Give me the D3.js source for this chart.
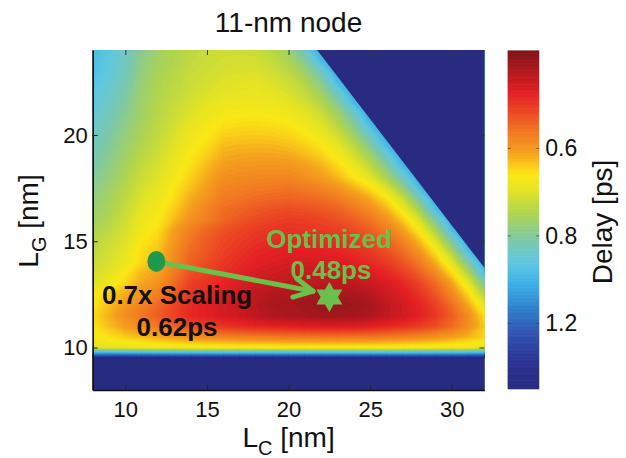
<!DOCTYPE html>
<html><head><meta charset="utf-8">
<script src="https://cdn.jsdelivr.net/npm/d3@7"></script>
<style>
body{margin:0;background:#fff}
svg{display:block}
text{font-family:"Liberation Sans",Arial,Helvetica,sans-serif}
</style>
</head><body>
<svg id="chart" width="626" height="458"></svg>
<script>
// ---------------- data ----------------
const lcValues = [8,9,10,11,12,13,14,15,16,17,18,19,20,21,22,23,24,25,26,27,28,29,30,31,32];
const lgValues = [24,23.5,23,22.5,22,21.5,21,20.5,20,19.5,19,18.5,18,17.5,17,16.5,16,15.5,15,14.5,14,13.5,13,12.5,12,11.5,11,10.5,10,9.5,9,8.5,8];
const N = null;
// delay in ps; null = infeasible design (LC + LG above the pitch limit)
const delayGrid = [
[.936,.895,.846,.792,.754,.736,.721,.709,.705,.703,.710,.728,.763,.858,N,N,N,N,N,N,N,N,N,N,N],
[.929,.888,.841,.782,.750,.733,.716,.706,.700,.697,.699,.712,.741,.797,.936,N,N,N,N,N,N,N,N,N,N],
[.922,.882,.835,.774,.745,.727,.711,.702,.695,.691,.690,.701,.723,.763,.846,N,N,N,N,N,N,N,N,N,N],
[.908,.870,.824,.767,.738,.723,.706,.697,.687,.684,.681,.690,.702,.732,.792,.936,N,N,N,N,N,N,N,N,N],
[.895,.858,.813,.763,.734,.718,.702,.691,.682,.677,.674,.680,.693,.715,.758,.852,N,N,N,N,N,N,N,N,N],
[.882,.846,.802,.758,.730,.710,.693,.680,.669,.666,.663,.669,.679,.697,.730,.794,.936,N,N,N,N,N,N,N,N],
[.870,.835,.792,.754,.726,.705,.685,.671,.659,.656,.653,.657,.665,.679,.705,.754,.846,N,N,N,N,N,N,N,N],
[.858,.824,.782,.747,.721,.698,.677,.661,.646,.643,.641,.644,.651,.665,.687,.727,.797,.936,N,N,N,N,N,N,N],
[.846,.813,.772,.740,.716,.690,.668,.651,.634,.631,.630,.632,.637,.649,.669,.700,.757,.858,N,N,N,N,N,N,N],
[.835,.802,.763,.732,.708,.683,.661,.643,.622,.619,.618,.619,.623,.633,.649,.677,.721,.797,.936,N,N,N,N,N,N],
[.824,.792,.754,.723,.700,.675,.651,.631,.612,.609,.607,.608,.610,.619,.632,.658,.695,.751,.852,N,N,N,N,N,N],
[.813,.782,.745,.714,.693,.667,.643,.620,.602,.598,.596,.595,.596,.604,.615,.637,.669,.714,.792,.936,N,N,N,N,N],
[.802,.772,.736,.705,.685,.660,.634,.612,.592,.588,.586,.585,.585,.592,.602,.620,.648,.683,.741,.846,N,N,N,N,N],
[.787,.758,.727,.696,.677,.649,.624,.603,.583,.579,.575,.573,.571,.575,.583,.597,.616,.644,.690,.768,.929,N,N,N,N],
[.777,.750,.719,.687,.668,.642,.613,.594,.575,.570,.565,.561,.559,.562,.566,.576,.591,.612,.646,.705,.822,N,N,N,N],
[.763,.741,.710,.678,.661,.630,.603,.583,.566,.559,.553,.549,.546,.548,.552,.559,.572,.590,.617,.665,.749,.922,N,N,N],
[.754,.732,.702,.670,.653,.621,.594,.578,.562,.552,.544,.539,.535,.536,.540,.547,.556,.571,.594,.630,.692,.813,N,N,N],
[.741,.719,.694,.661,.643,.603,.577,.561,.548,.541,.534,.531,.528,.530,.533,.537,.544,.556,.575,.604,.653,.740,.919,N,N],
[.727,.706,.687,.651,.634,.598,.570,.555,.542,.535,.528,.525,.522,.523,.525,.528,.534,.544,.559,.583,.619,.686,.810,N,N],
[.719,.698,.679,.642,.626,.592,.564,.551,.538,.530,.522,.519,.516,.516,.518,.520,.525,.533,.546,.566,.596,.646,.736,.919,N],
[.710,.690,.672,.638,.620,.586,.557,.545,.533,.525,.517,.513,.510,.510,.510,.512,.517,.524,.535,.551,.576,.615,.683,.808,N],
[.698,.679,.651,.619,.606,.575,.547,.537,.527,.519,.510,.507,.504,.503,.503,.504,.507,.513,.522,.536,.556,.588,.640,.732,.918],
[.687,.668,.637,.609,.595,.565,.538,.529,.520,.512,.504,.501,.498,.496,.496,.496,.498,.504,.511,.523,.540,.564,.606,.675,.803],
[.658,.634,.612,.595,.578,.555,.531,.522,.514,.507,.497,.492,.490,.488,.486,.486,.488,.493,.504,.514,.529,.551,.584,.638,.732],
[.651,.624,.600,.581,.562,.542,.524,.516,.507,.502,.494,.488,.486,.483,.480,.480,.482,.486,.498,.507,.520,.538,.567,.610,.680],
[.641,.615,.591,.573,.555,.539,.523,.516,.509,.503,.496,.491,.488,.486,.484,.484,.486,.489,.499,.507,.517,.533,.556,.590,.643],
[.648,.624,.603,.588,.573,.558,.545,.538,.532,.527,.523,.520,.518,.516,.514,.514,.515,.518,.523,.529,.536,.547,.565,.591,.629],
[.658,.645,.632,.622,.612,.603,.594,.589,.584,.580,.578,.576,.574,.573,.572,.572,.573,.574,.578,.582,.587,.595,.604,.618,.634],
[.690,.683,.678,.674,.670,.667,.665,.664,.662,.661,.661,.660,.659,.659,.659,.659,.659,.659,.660,.661,.663,.665,.668,.672,.678],
[1.9,1.9,1.9,1.9,1.9,1.9,1.9,1.9,1.9,1.9,1.9,1.9,1.9,1.9,1.9,1.9,1.9,1.9,1.9,1.9,1.9,1.9,1.9,1.9,1.9],
[1.9,1.9,1.9,1.9,1.9,1.9,1.9,1.9,1.9,1.9,1.9,1.9,1.9,1.9,1.9,1.9,1.9,1.9,1.9,1.9,1.9,1.9,1.9,1.9,1.9],
[1.9,1.9,1.9,1.9,1.9,1.9,1.9,1.9,1.9,1.9,1.9,1.9,1.9,1.9,1.9,1.9,1.9,1.9,1.9,1.9,1.9,1.9,1.9,1.9,1.9],
[1.9,1.9,1.9,1.9,1.9,1.9,1.9,1.9,1.9,1.9,1.9,1.9,1.9,1.9,1.9,1.9,1.9,1.9,1.9,1.9,1.9,1.9,1.9,1.9,1.9]
];
const pitchLimit = 45.75;          // designs with LC + LG above this are infeasible
const infeasibleDelay = 1.0;       // value used under the infeasible mask
const xTicks = [10,15,20,25,30];
const yTicks = [10,15,20];
const delayTicks = [0.6,0.8,1.2];
const delayLimits = [0.469,1.92];  // colour-bar limits (ps)
const scalingPoint = {lc: 11.9, lg: 14.05, delay: 0.62};
const arrowTip = {lc: 21.5, lg: 12.65};
const optimizedPoint = {lc: 22.5, lg: 12.38, delay: 0.48};

// ---------------- layout ----------------
const svg = d3.select("#chart");
const x = d3.scaleLinear().domain([8,32]).range([92.7,484.4]);
const y = d3.scaleLinear().domain([8,24]).range([390,50]);
const sMin = 1/delayLimits[1], sMax = 1/delayLimits[0];
const tStops = [0,.08,.16,.24,.31,.375,.44,.52,.59,.63,.66,.70,.76,.82,.875,.94,1];
const cStops = ["rgb(40,43,128)","rgb(44,50,145)","rgb(50,80,175)","rgb(48,130,205)","rgb(60,175,230)",
  "rgb(95,200,225)","rgb(125,200,170)","rgb(175,212,80)","rgb(230,228,35)","rgb(250,232,22)",
  "rgb(250,205,25)","rgb(245,160,30)","rgb(242,120,35)","rgb(236,72,36)","rgb(228,32,37)","rgb(178,24,30)","rgb(125,20,25)"];
const jet = d3.scaleLinear().domain(tStops).range(cStops).interpolate(d3.interpolateRgb).clamp(true);
const color = s => jet((s - sMin)/(sMax - sMin));

svg.append("defs").append("clipPath").attr("id","plotclip")
  .append("rect").attr("x",x(8)).attr("y",y(24)).attr("width",x(32)-x(8)).attr("height",y(8)-y(24));

// heat map as filled contour bands of speed (1/delay)
const nx = lcValues.length, ny = lgValues.length;
const speed = [];
delayGrid.forEach(row => row.forEach(d => speed.push(1/(d == null ? infeasibleDelay : d))));
const step = 0.0125;
const thresholds = d3.range(0.50, 2.16, step);
const bands = d3.contours().size([nx, ny]).thresholds(thresholds)(speed);
const dLc = lcValues[1]-lcValues[0], dLg = lgValues[1]-lgValues[0];
const gridProj = d3.geoTransform({point(px, py){
  this.stream.point(x(lcValues[0] + (px-0.5)*dLc), y(lgValues[0] + (py-0.5)*dLg));
}});
const path = d3.geoPath(gridProj);
const plot = svg.append("g").attr("clip-path","url(#plotclip)");
plot.selectAll("path.band").data(bands).join("path").attr("class","band")
  .attr("d", path).attr("fill", b => color(b.value + step/2))
  .attr("stroke", b => color(b.value + step/2)).attr("stroke-width",0.4);

// infeasible region
const mask = [[pitchLimit-24.5,24.5],[32.5,24.5],[32.5,pitchLimit-32.5]];
plot.append("path").attr("d", d3.line().x(p=>x(p[0])).y(p=>y(p[1]))(mask)+"Z")
  .attr("fill", color(sMin));

// axes
const tickFont = 22;
const gx = svg.append("g").attr("transform",`translate(0,${y(8)})`)
  .call(d3.axisBottom(x).tickValues(xTicks).tickSizeInner(-5).tickSizeOuter(0).tickPadding(11));
const gy = svg.append("g").attr("transform",`translate(${x(8)},0)`)
  .call(d3.axisLeft(y).tickValues(yTicks).tickSizeInner(-5).tickSizeOuter(0).tickPadding(5));
const gr = svg.append("g").attr("transform",`translate(${x(32)},0)`)
  .call(d3.axisRight(y).tickValues(yTicks).tickSizeInner(-5).tickSizeOuter(0).tickFormat(""));
const gt = svg.append("g").attr("transform",`translate(0,${y(24)})`)
  .call(d3.axisTop(x).tickValues(xTicks).tickSizeInner(-5).tickSizeOuter(0).tickFormat(""));
[gx,gy].forEach(g => {
  g.select(".domain").attr("stroke","#111").attr("stroke-width",1.6);
  g.selectAll(".tick line").attr("stroke","#222").attr("stroke-width",1);
  g.selectAll(".tick text").attr("font-size",tickFont).attr("fill","#111");
});
[gr,gt].forEach(g => {
  g.select(".domain").remove();
  g.selectAll(".tick line").attr("stroke","#333").attr("stroke-width",1);
});

// colour bar
const cb = d3.scaleLinear().domain([sMin,sMax]).range([389,50.7]);
const cbX = 507.7, cbW = 31.5;
const cbN = 240, cbStep = (sMax-sMin)/cbN;
const cbSteps = d3.range(cbN).map(i => sMin + i*cbStep);
svg.append("g").selectAll("rect").data(cbSteps).join("rect")
  .attr("x",cbX).attr("width",cbW)
  .attr("y", s => cb(s + cbStep) - 0.3)
  .attr("height", s => cb(s) - cb(s + cbStep) + 0.6)
  .attr("fill", s => color(s + cbStep/2));
const gcb = svg.append("g").attr("transform",`translate(${cbX+cbW},0)`)
  .call(d3.axisRight(cb).tickValues(delayTicks.map(d=>1/d)).tickSize(0).tickPadding(6)
    .tickFormat(s => d3.format(".1f")(1/s)));
gcb.select(".domain").remove();
gcb.selectAll(".tick text").attr("font-size",23).attr("fill","#111");
const cbt = svg.append("g");
delayTicks.forEach(d => {
  cbt.append("line").attr("x1",cbX).attr("x2",cbX+3).attr("y1",cb(1/d)).attr("y2",cb(1/d)).attr("stroke","#333").attr("opacity",0.6);
  cbt.append("line").attr("x1",cbX+cbW-3).attr("x2",cbX+cbW).attr("y1",cb(1/d)).attr("y2",cb(1/d)).attr("stroke","#333").attr("opacity",0.6);
});

// titles and labels
svg.append("text").attr("x",(x(8)+x(32))/2).attr("y",32).attr("text-anchor","middle")
  .attr("font-size",28).attr("fill","#111").text("11-nm node");
const xl = svg.append("text").attr("x",(x(8)+x(32))/2).attr("y",447).attr("text-anchor","middle")
  .attr("font-size",28).attr("fill","#111");
xl.append("tspan").text("L");
xl.append("tspan").attr("font-size",20).attr("dy",8).text("C");
xl.append("tspan").attr("dy",-8).text(" [nm]");
const yl = svg.append("text").attr("transform","translate(38,221) rotate(-90)").attr("text-anchor","middle")
  .attr("font-size",28).attr("fill","#111");
yl.append("tspan").text("L");
yl.append("tspan").attr("font-size",20).attr("dy",8).text("G");
yl.append("tspan").attr("dy",-8).text(" [nm]");
svg.append("text").attr("transform","translate(612,222) rotate(-90)").attr("text-anchor","middle")
  .attr("font-size",28).attr("fill","#111").text("Delay [ps]");

// annotations
const green = "#6bbf4b";
const p0 = [x(scalingPoint.lc), y(scalingPoint.lg)];
const p1 = [x(arrowTip.lc), y(arrowTip.lg)];
const ang = Math.atan2(p1[1]-p0[1], p1[0]-p0[0]);
const bl = 21, ba = 27*Math.PI/180;
const ann = svg.append("g");
ann.append("path").attr("d", d3.line()([p0,p1]))
  .attr("stroke",green).attr("stroke-width",5).attr("fill","none").attr("stroke-linecap","round");
ann.append("path").attr("d", d3.line()([
    [p1[0]-bl*Math.cos(ang-ba), p1[1]-bl*Math.sin(ang-ba)], p1,
    [p1[0]-bl*Math.cos(ang+ba), p1[1]-bl*Math.sin(ang+ba)]]))
  .attr("stroke",green).attr("stroke-width",5).attr("fill","none")
  .attr("stroke-linecap","round").attr("stroke-linejoin","round");
ann.append("ellipse").attr("cx",p0[0]).attr("cy",p0[1]).attr("rx",9).attr("ry",10.5).attr("fill","#1d9a4c");
const sc = [x(optimizedPoint.lc), y(optimizedPoint.lg)];
const starPts = d3.range(12).map(i => {
  const r = i % 2 === 0 ? 15 : 8.7, a = -Math.PI/2 + i*Math.PI/6;
  return [sc[0] + r*Math.cos(a), sc[1] + r*Math.sin(a)];
});
ann.append("path").attr("d", d3.line()(starPts)+"Z").attr("fill",green);

const annText = (t, lc, lg, fill) => svg.append("text").attr("x",x(lc)).attr("y",y(lg))
  .attr("text-anchor","middle").attr("font-size",26).attr("font-weight","bold").attr("fill",fill).text(t);
annText("0.7x Scaling", 13.17, 12.07, "#111");
annText(`${scalingPoint.delay.toFixed(2)}ps`, 13.17, 10.56, "#111");
annText("Optimized", 22.48, 14.68, green);
annText(`${optimizedPoint.delay.toFixed(2)}ps`, 22.6, 13.22, green);
</script>
</body></html>
